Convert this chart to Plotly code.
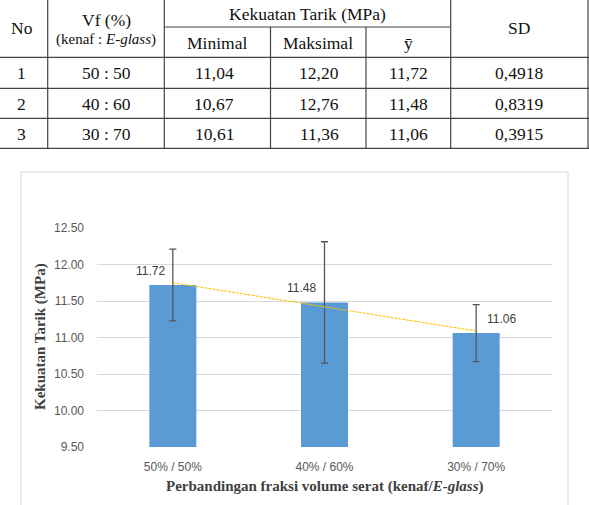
import numpy as np
import plotly.graph_objects as go

# ---- data ----
nos = ["1", "2", "3"]
vf_labels = ["50 : 50", "40 : 60", "30 : 70"]
minimal = ["11,04", "10,67", "10,61"]
maksimal = ["12,20", "12,76", "11,36"]
ybar_txt = ["11,72", "11,48", "11,06"]
sd_txt = ["0,4918", "0,8319", "0,3915"]

categories = ["50% / 50%", "40% / 60%", "30% / 70%"]
means = [11.72, 11.48, 11.06]
sds = [0.4918, 0.8319, 0.3915]
y_ticks = [9.5, 10.0, 10.5, 11.0, 11.5, 12.0, 12.5]

# linear trendline (as in the original chart)
xi = np.arange(1, len(means) + 1)
coef = np.polyfit(xi, means, 1)
trend = list(np.polyval(coef, xi))

W, H = 589, 505
PL, PR, PT, PB = 97, 552, 228, 447  # plot area pixels


def px(x):
    return (x - PL) / (PR - PL)


def py(y):
    return (PB - y) / (PB - PT)


fig = go.Figure()
fig.add_trace(go.Bar(
    x=categories, y=[m - 9.5 for m in means], base=9.5, width=0.31,
    marker=dict(color="#5b9bd5", line=dict(width=0)),
    error_y=dict(type="data", array=sds, color="#555555", thickness=1.3, width=3.5),
    hoverinfo="skip", showlegend=False,
))
fig.add_trace(go.Scatter(
    x=categories, y=trend, mode="lines",
    line=dict(color="#ffc000", width=1, dash="3px,1px"),
    hoverinfo="skip", showlegend=False,
))

shapes = []
annos = []

# data labels
lbl_shift = [-22, -23, 25]
for c, m, s in zip(categories, means, lbl_shift):
    annos.append(dict(x=c, y=m, xref="x", yref="y", text=f"{m:.2f}", showarrow=False,
                      xshift=s, yshift=14, font=dict(family="Liberation Sans", size=12, color="#404040")))

# chart frame
shapes.append(dict(type="rect", xref="paper", yref="paper", x0=px(21), x1=px(568), y0=py(515), y1=py(172),
                   line=dict(color="#d9d9d9", width=1), layer="below"))

# axis titles
annos.append(dict(x=px(324.5), y=py(486), xref="paper", yref="paper", showarrow=False,
                  text="<b>Perbandingan fraksi volume serat (kenaf/<i>E-glass</i>)</b>",
                  font=dict(family="Liberation Serif", size=15, color="#404040"),
                  xanchor="center", yanchor="middle"))
annos.append(dict(x=px(40), y=py(337), xref="paper", yref="paper", showarrow=False,
                  text="<b>Kekuatan Tarik (MPa)</b>", textangle=-90,
                  font=dict(family="Liberation Serif", size=15, color="#404040"),
                  xanchor="center", yanchor="middle"))

# ---- table ----
tcol = "#444444"
tfont = dict(family="Liberation Serif", size=17.5, color="#111111")


def hline(x0, x1, y):
    shapes.append(dict(type="line", xref="paper", yref="paper", x0=px(x0), x1=px(x1), y0=py(y), y1=py(y),
                       line=dict(color=tcol, width=1.2)))


def vline(x, y0, y1):
    shapes.append(dict(type="line", xref="paper", yref="paper", x0=px(x), x1=px(x), y0=py(y0), y1=py(y1),
                       line=dict(color=tcol, width=1.2)))


def txt(x, y, t, font=tfont):
    annos.append(dict(x=px(x), y=py(y), xref="paper", yref="paper", text=t, showarrow=False,
                      xanchor="center", yanchor="middle", font=font))


hline(164.3, 450.7, 27)
for yy in [57.3, 88.3, 118.3, 148.3]:
    hline(-2, 591, yy)
vline(47.7, -2, 148.3)
vline(164.3, -2, 148.3)
vline(270.5, 27, 148.3)
vline(366, 27, 148.3)
vline(450.7, -2, 148.3)
vline(588, -2, 148.3)

txt(22, 28, "No")
txt(106, 20.5, "Vf (%)")
txt(106, 39.5, "(kenaf : <i>E-glass</i>)", dict(family="Liberation Serif", size=15, color="#111111"))
txt(307.5, 13.5, "Kekuatan Tarik (MPa)")
txt(217, 43, "Minimal")
txt(318, 43, "Maksimal")
txt(408, 43, "ȳ")
txt(519, 28, "SD")

row_y = [73.3, 104, 134]
for i in range(3):
    txt(21, row_y[i], nos[i])
    txt(106, row_y[i], vf_labels[i])
    txt(214, row_y[i], minimal[i])
    txt(319, row_y[i], maksimal[i])
    txt(408, row_y[i], ybar_txt[i])
    txt(519, row_y[i], sd_txt[i])

fig.update_layout(
    width=W, height=H,
    margin=dict(l=PL, r=W - PR, t=PT, b=H - PB, pad=0),
    paper_bgcolor="white", plot_bgcolor="white",
    shapes=shapes, annotations=annos,
    xaxis=dict(showgrid=False, showline=False, zeroline=False, ticks="",
               tickfont=dict(family="Liberation Sans", size=12, color="#595959"),
               ticklabelstandoff=11, fixedrange=True),
    yaxis=dict(range=[9.5, 12.5], tickvals=y_ticks, ticktext=[f"{v:.2f}" for v in y_ticks],
               showgrid=True, gridcolor="#d9d9d9", gridwidth=1, zeroline=False, showline=False, ticks="",
               tickfont=dict(family="Liberation Sans", size=12, color="#595959"),
               ticklabelstandoff=12, fixedrange=True),
    bargap=0.5,
)

fig.write_html("out.html")
